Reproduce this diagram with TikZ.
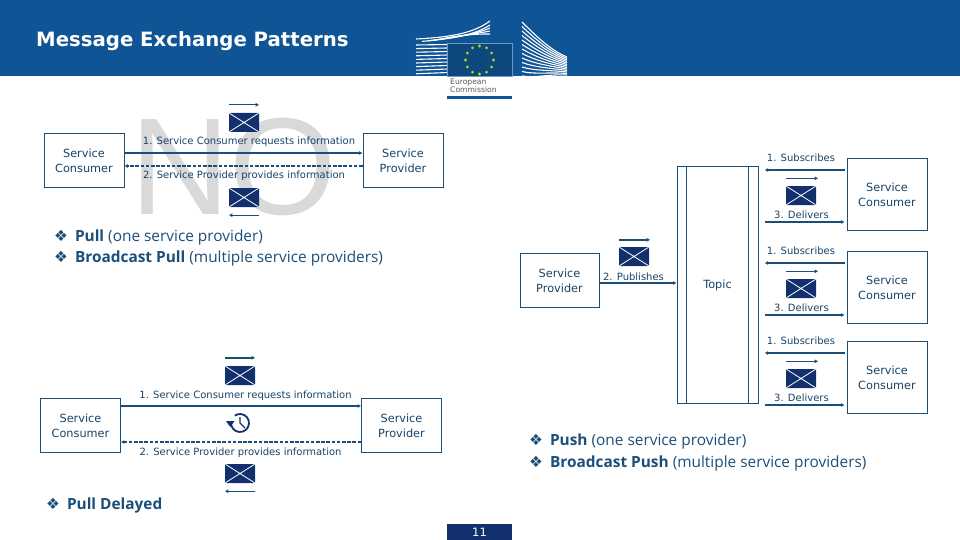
\documentclass[tikz,border=0pt]{standalone}
\usepackage{fontspec}
\setmainfont{DejaVu Sans}
\newfontfamily\bulletfont{Open Sans}
\newfontfamily\headfont{Liberation Sans}
\usetikzlibrary{arrows.meta}
\definecolor{eublue}{HTML}{0F5494}
\definecolor{inkblue}{HTML}{1B4F7A}
\definecolor{mailblue}{HTML}{12306E}
\newcommand{\bul}{{\fontspec{DejaVu Sans}\symbol{"2756}}\hspace{7pt}}
\begin{document}
\begin{tikzpicture}[x=1pt,y=-1pt,
    party/.style={draw=inkblue,line width=0.8pt,text=inkblue!85!black,align=center,font=\fontsize{11.3}{14.5}\selectfont,inner sep=0pt,minimum width=80pt,text height=25pt},
    msg/.style={text=inkblue!85!black,font=\fontsize{10}{11}\selectfont,inner sep=0pt},
    line/.style={inkblue,line width=1.4pt,-{Latex[length=3.5pt,width=4pt]}},
    back/.style={line,dash pattern=on 3.6pt off 1.6pt},
    note/.style={text=inkblue,anchor=west,inner sep=0pt,font=\bulletfont\fontsize{15.4}{17}\selectfont},
    mail/.style={fill=mailblue,rounded corners=1pt,minimum width=30pt,minimum height=19pt,inner sep=0pt,
      path picture={\draw[white,line width=0.8pt]
        (path picture bounding box.north west) -- (path picture bounding box.center)
        -- (path picture bounding box.north east)
        (path picture bounding box.south west) -- (path picture bounding box.center)
        -- (path picture bounding box.south east);}}]
  \useasboundingbox (0,0) rectangle (960,540);
  % banner and logo
  \fill[eublue] (0,0) rectangle (960,76);
  \node[anchor=west,text=white,inner sep=0pt,font=\bfseries\fontsize{19.7}{22}\selectfont] (title) at (36,41.5) {Message Exchange Patterns};
  \begin{scope}[white,line width=1.1pt]
    \foreach \i in {0,...,8}
      \draw (416,45+\i*3.6) -- (448,44.5+\i*3.5);
    \draw (416,39) .. controls (455,37) and (475,32) .. (490,21);
    \foreach \i in {1,...,4}
      \draw (416+\i*6,42-\i*0.6) .. controls (455,39.5-\i) and (475,35-\i*0.3) .. (490,22+\i*3);
    \foreach \i in {0,...,12}
      \draw (522,22+\i*4.5) .. controls (535,35+\i*3.6) and (550,50+\i*2) .. (567,57+\i*1.5);
  \end{scope}
  \fill[eublue!85!black,draw=eublue!60!white,line width=0.5pt] (447,43.5) rectangle (512,76);
  \foreach \a in {0,30,...,330}
    \fill[yellow!70!green] (479.5,60) ++(\a:14) circle (1.6);
  \node[anchor=west,text=black!65,inner sep=0pt,font=\fontsize{7.6}{8.3}\selectfont,align=left] (eclogo) at (450,85.5) {European\\Commission};
  \fill[eublue] (447,96) rectangle (512,99);
  \node[fill=mailblue,text=white,minimum width=65pt,minimum height=16pt,inner sep=0pt,font=\fontsize{11.5}{13}\selectfont] (page) at (479.5,532) {11};
  % big watermark
  \node[text=black!15,inner sep=0pt,font=\headfont\fontsize{138}{144}\selectfont] (stamp) at (233.5,167) {NO};
  % pull
  \node[party,minimum height=54pt] (cons) at (84,160) {Service\\Consumer};
  \node[party,minimum height=54pt] (prov) at (403,160) {Service\\Provider};
  \draw[line] ([yshift=7pt]cons.east) -- ([yshift=7pt]prov.west);
  \draw[back] ([yshift=-6pt]prov.west) -- ([yshift=-6pt]cons.east);
  \node[msg] (req) at (249,142) {1. Service Consumer requests information};
  \node[msg] (res) at (244,176) {2. Service Provider provides information};
  \node[mail] (mailreq) at (244,122.5) {};
  \node[mail] (mailres) at (244,197.5) {};
  \coordinate (a) at ([yshift=8pt]mailreq.north west);
  \coordinate (b) at ([yshift=8pt]mailreq.north east);
  \draw[line] (a) -- (b);
  \coordinate (c) at ([yshift=-8pt]mailres.south east);
  \coordinate (d) at ([yshift=-8pt]mailres.south west);
  \draw[line] (c) -- (d);
  \node[note] (pull) at (54,237) {\bul\textbf{Pull} (one service provider)};
  \node[note] (bpull) at (54,258) {\bul\textbf{Broadcast Pull} (multiple service providers)};
  % pull delayed
  \node[party,minimum height=54pt] (consd) at (80.5,425) {Service\\Consumer};
  \node[party,minimum height=54pt] (provd) at (401.5,425) {Service\\Provider};
  \draw[line] ([yshift=19pt]consd.east) -- ([yshift=19pt]provd.west);
  \draw[back] ([yshift=-17pt]provd.west) -- ([yshift=-17pt]consd.east);
  \node[msg] (reqd) at (245.5,396) {1. Service Consumer requests information};
  \node[msg] (resd) at (240.5,453) {2. Service Provider provides information};
  \node[mail] (mailreqd) at (240,375.5) {};
  \node[mail] (mailresd) at (240,473.5) {};
  \coordinate (e) at ([yshift=8pt]mailreqd.north west);
  \coordinate (f) at ([yshift=8pt]mailreqd.north east);
  \draw[line] (e) -- (f);
  \coordinate (g) at ([yshift=-8pt]mailresd.south east);
  \coordinate (h) at ([yshift=-8pt]mailresd.south west);
  \draw[line] (g) -- (h);
  \coordinate (clock) at (240,423);
  \draw[mailblue,line width=1.8pt] (clock) ++(185:9) arc[start angle=185,end angle=-125,radius=9];
  \fill[mailblue] (226,421) -- (234.5,421) -- (230.2,427) -- cycle;
  \draw[mailblue,line width=1.4pt] (240,417) -- (clock) -- (245,428);
  \node[note] (delayed) at (46,505) {\bul\textbf{Pull Delayed}};
  % push
  \node[draw=inkblue,line width=0.8pt,minimum width=81pt,minimum height=237pt,inner sep=0pt] (topic) at (717.5,284.5) {};
  \draw[inkblue,line width=0.8pt] ([xshift=10pt]topic.north west) -- ([xshift=10pt]topic.south west);
  \draw[inkblue,line width=0.8pt] ([xshift=-10pt]topic.north east) -- ([xshift=-10pt]topic.south east);
  \node[msg,font=\fontsize{11.3}{14}\selectfont] (topiclbl) at (717.5,285) {Topic};
  \node[party,minimum width=79pt,minimum height=54pt] (pub) at (559.5,280) {Service\\Provider};
  \draw[line] ([yshift=-3pt]pub.east) -- ([yshift=1.5pt]topic.west);
  \node[msg] (publbl) at (633.5,277) {2. Publishes};
  \node[mail] (mailpub) at (634,256.5) {};
  \coordinate (i) at ([yshift=7pt]mailpub.north west);
  \coordinate (j) at ([xshift=1pt,yshift=7pt]mailpub.north east);
  \draw[line] (i) -- (j);
  \foreach \s/\yc in {1/194,2/287,3/377}{
    \node[party,minimum height=72pt] (sub\s) at (887,\yc) {Service\\Consumer};
    \node[msg] (sublbl\s) at (801,\yc-36) {1. Subscribes};
    \node[msg] (dellbl\s) at (801.5,\yc+21) {3. Delivers};
    \node[mail] (mail\s) at (801,\yc+1.5) {};
    \coordinate (k\s) at ([yshift=7.5pt]mail\s.north west);
    \coordinate (l\s) at ([xshift=2pt,yshift=7.5pt]mail\s.north east);
    \draw[line] (k\s) -- (l\s);
    \draw[line] ([xshift=-2pt,yshift=24pt]sub\s.west) -- ([xshift=-82pt,yshift=24pt]sub\s.west);
    \draw[line] ([xshift=-82pt,yshift=-28pt]sub\s.west) -- ([xshift=-2pt,yshift=-28pt]sub\s.west);
  }
  \node[note] (push) at (529,441) {\bul\textbf{Push} (one service provider)};
  \node[note] (bpush) at (529,463) {\bul\textbf{Broadcast Push} (multiple service providers)};
\end{tikzpicture}
\end{document}
